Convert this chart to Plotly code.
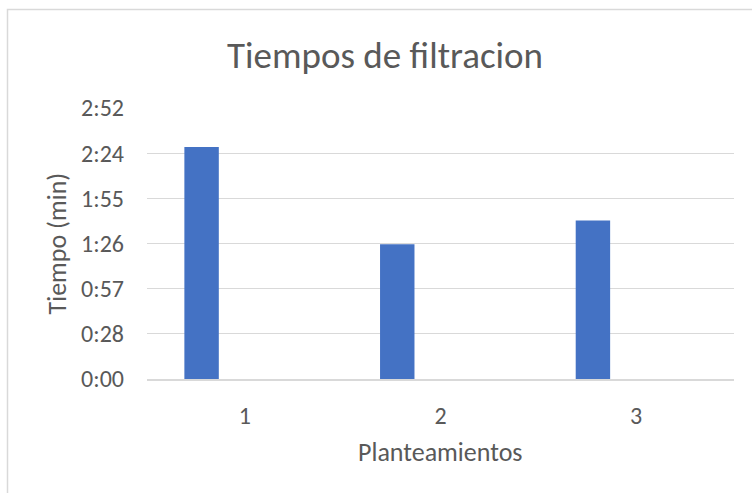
import plotly.graph_objects as go

# Filtration time per setup, in minutes (axis shows h:mm style labels)
planteamientos = [1, 2, 3]
planteamiento_labels = ["1", "2", "3"]
tiempos_min = [148, 86, 101]

# Y axis ticks every 0.02 day (28.8 min), labelled as h:mm
y_tickvals = [0, 28.8, 57.6, 86.4, 115.2, 144.0, 172.8]
y_ticktext = ["0:00", "0:28", "0:57", "1:26", "1:55", "2:24", "2:52"]

FONT = "Calibri, Carlito, Lato, sans-serif"
TEXT = "#595959"
GRID = "#d9d9d9"

fig = go.Figure(
    go.Bar(
        x=planteamientos,
        y=tiempos_min,
        width=0.176,
        offset=-0.309,
        marker=dict(color="#4472C4", line=dict(width=0)),
        showlegend=False,
    )
)

fig.update_layout(
    width=752,
    height=493,
    margin=dict(l=147, r=18, t=108, b=114),
    paper_bgcolor="white",
    plot_bgcolor="white",
    font=dict(family=FONT, color=TEXT),
    title=dict(
        text="Tiempos de filtracion",
        font=dict(size=37, color=TEXT, family=FONT),
        xref="paper", x=0.4055, xanchor="center",
        yref="container", y=1 - 55 / 493, yanchor="middle",
    ),
    xaxis=dict(
        range=[0.5, 3.5],
        tickvals=planteamientos,
        ticktext=planteamiento_labels,
        showgrid=False,
        showline=True, linecolor=GRID, linewidth=1.5,
        ticks="", ticklabelstandoff=14,
        tickfont=dict(size=24, color=TEXT),
        zeroline=False,
    ),
    yaxis=dict(
        range=[0, 172.8],
        tickvals=y_tickvals,
        ticktext=y_ticktext,
        showgrid=True, gridcolor=GRID, gridwidth=1.4,
        showline=False, zeroline=False,
        ticks="", ticklabelstandoff=22,
        tickfont=dict(size=24, color=TEXT),
    ),
    annotations=[
        dict(text="Planteamientos", xref="paper", yref="paper",
             x=0.5, y=(379 - 452) / 271, xanchor="center", yanchor="middle",
             showarrow=False, font=dict(size=26, color=TEXT, family=FONT)),
        dict(text="Tiempo (min)", xref="paper", yref="paper",
             x=(56 - 147) / 587, y=0.5, xanchor="center", yanchor="middle",
             textangle=-90, showarrow=False,
             font=dict(size=26, color=TEXT, family=FONT)),
    ],
    shapes=[
        dict(type="rect", xref="paper", yref="paper",
             x0=(7.5 - 147) / 587, x1=1.2,
             y0=-0.6, y1=(379 - 9.5) / 271,
             line=dict(color=GRID, width=1.5), fillcolor="rgba(0,0,0,0)",
             layer="below"),
    ],
)

fig.write_html("out.html")
